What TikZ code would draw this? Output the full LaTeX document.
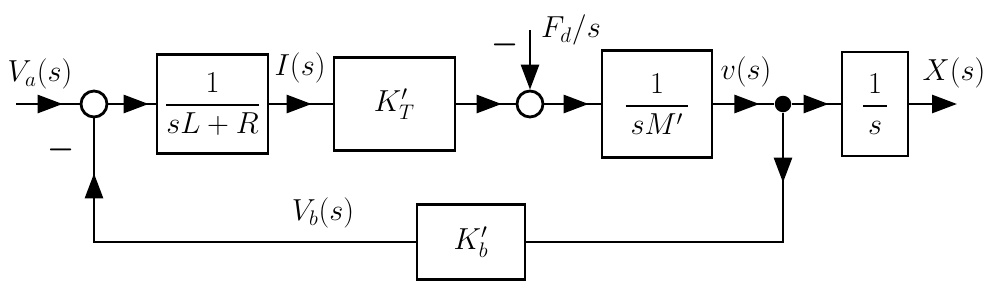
\documentclass[tikz,border=0pt]{standalone}
\usepackage{amsmath}
\usepackage{tikz}
\usetikzlibrary{arrows.meta,positioning,decorations.markings}

\tikzset{
  block/.style={draw, line width=1.6pt, inner sep=2pt},
  sumnode/.style={circle, draw, line width=1.6pt, minimum size=0.52cm, inner sep=0pt},
  flow/.style={line width=1.6pt, postaction={decorate},
    decoration={markings, mark=at position #1 with {\arrow{Triangle[length=0.5cm,width=0.36cm]}}}},
  flowend/.style={line width=1.6pt, -{Triangle[length=0.5cm,width=0.36cm]}},
}

\begin{document}
\begin{tikzpicture}[x=0.02cm, y=-0.02cm, font=\fontsize{17.28}{20}\selectfont]
  \useasboundingbox (0,0) rectangle (995,285);
  % Forward path
  \coordinate (in) at (16,104);
  \node[sumnode] (sumA) at (94,104) {};
  \node[block, inner sep=0pt, minimum width=2.22cm, minimum height=1.98cm] (elec) at (212.5,104) {$\dfrac{1}{sL+R}$};
  \node[block, minimum width=2.42cm, minimum height=1.86cm] (torque) at (394.5,104) {$K'_T$};
  \node[sumnode] (sumB) at (530,104) {};
  \node[block, minimum width=2.2cm, minimum height=2.14cm] (mass) at (657,104) {$\dfrac{1}{\,sM'\,}$};
  \node[circle, fill, minimum size=0.33cm, inner sep=0pt] (branch) at (783,104) {};
  \node[block, minimum width=1.32cm, minimum height=2.08cm] (integ) at (875,104) {$\dfrac{1}{\,s\,}$};
  \coordinate (out) at (957,104);
  % Feedback path
  \node[block, minimum width=2.16cm, minimum height=1.5cm] (backemf) at (471,242) {$K'_b$};
  % Disturbance
  \coordinate (fd) at (530,30);
  % Signal labels
  \node (Va) at (40,74) {$V_a(s)$};
  \node (minusA) at (61,150) {$\boldsymbol{-}$};
  \node (Is) at (300,68) {$I(s)$};
  \node (Fd) at (571,30) {$F_d/s$};
  \node (minusB) at (505,45) {$\boldsymbol{-}$};
  \node (vs) at (746,72) {$v(s)$};
  \node (Xs) at (954,73) {$X(s)$};
  \node (Vb) at (323,213) {$V_b(s)$};
  % Connectors
  \draw[flow=-0.34cm] (in) -- (sumA);
  \draw[flow=-0.14cm] (sumA) -- (elec);
  \draw[flow=-0.42cm] (elec) -- (torque);
  \draw[flow=-0.28cm] (torque) -- (sumB);
  \draw[flow=-0.24cm] (sumB) -- (mass);
  \draw[flow=-0.3cm] (mass) -- (branch);
  \draw[flow=-0.24cm] (branch) -- (integ);
  \draw[flowend] (integ) -- (out);
  \draw[flowend] (fd) -- (sumB);
  \draw[flow=1.4cm] (branch) |- (backemf);
  \draw[flow=-1.1cm] (backemf) -| (sumA);
\end{tikzpicture}
\end{document}
